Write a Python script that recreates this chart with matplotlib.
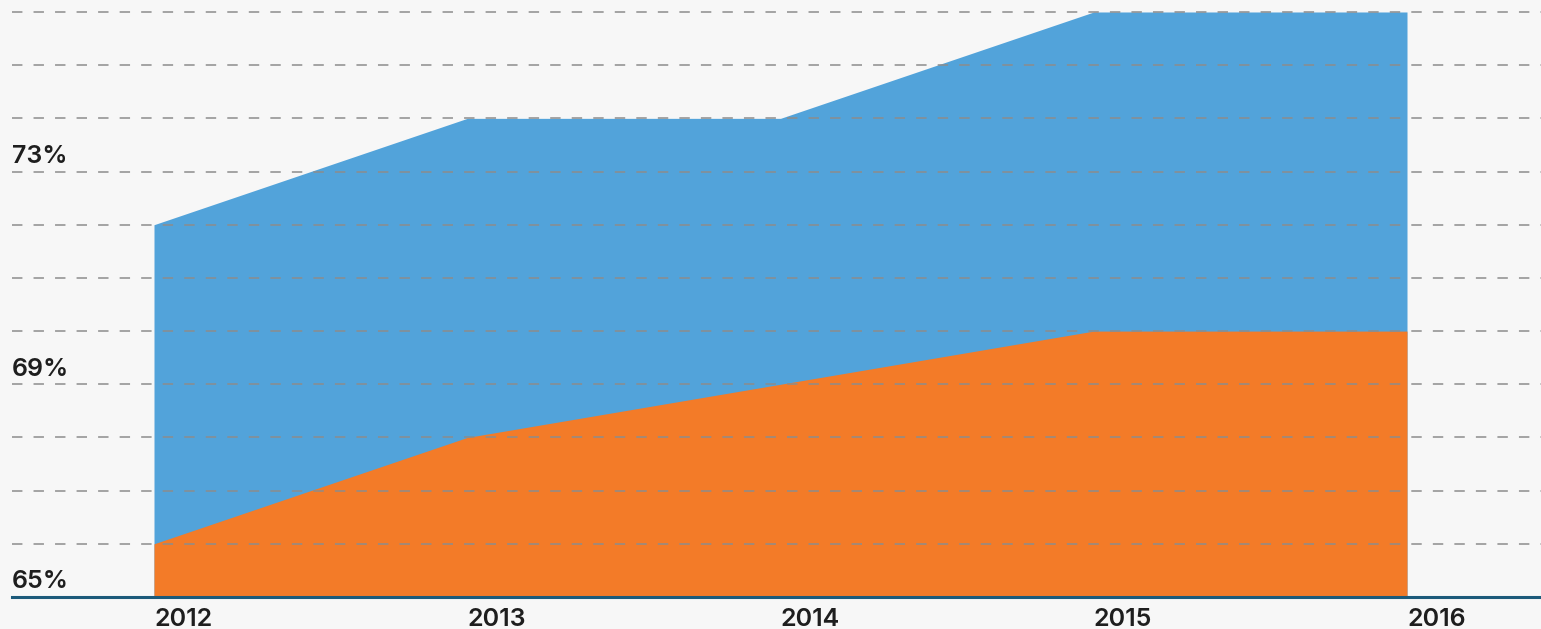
import matplotlib.pyplot as plt

plt.rcParams['lines.scale_dashes'] = False

years = [2012, 2013, 2014, 2015, 2016]
orange_vals = [66, 68, 69, 70, 70]
blue_vals = [72, 74, 74, 76, 76]
y_grid = list(range(65, 77))
y_labels = {65: '65%', 69: '69%', 73: '73%'}

bg = '#f7f7f7'
fig = plt.figure(figsize=(15.41, 6.29), dpi=100, facecolor=bg)
ax = fig.add_axes([12 / 1541, 32 / 629, 1529 / 1541, 597 / 629])
ax.set_facecolor(bg)

ax.fill_between(years, 65, blue_vals, color='#52a3da', lw=0, zorder=1)
ax.fill_between(years, 65, orange_vals, color='#f37b28', lw=0, zorder=2)

for y in y_grid[1:]:
    ax.axhline(y, color='#8c8c8c', lw=1.1, dashes=(7.5, 8), zorder=3)
ax.axhline(65, color='#1c5a7a', lw=2.2, zorder=4, clip_on=False)

ax.set_xlim(2012 - 142 / 313.25, 2016 + 134 / 313.25)
ax.set_ylim(65, 76 + 12 / 53.25)

font = dict(fontsize=18, fontfamily='Inter', fontweight='semibold', color='#1e1e1e')
for y, t in y_labels.items():
    ax.text(ax.get_xlim()[0], y + 0.07, t, ha='left', va='bottom', **font)
for yr in years:
    ax.text(yr, 64.8, str(yr), ha='left', va='top', clip_on=False, **font)

ax.set_xticks([])
ax.set_yticks([])
for s in ax.spines.values():
    s.set_visible(False)

fig.savefig('out.png', dpi=100, facecolor=bg)
